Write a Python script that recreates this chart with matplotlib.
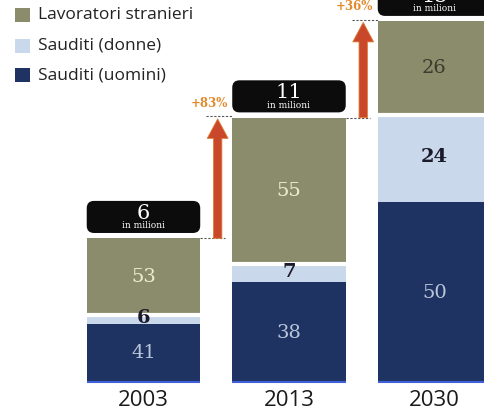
import matplotlib
matplotlib.use("Agg")
import matplotlib.pyplot as plt
from matplotlib.patches import FancyBboxPatch, Rectangle

# Data
years = ["2003", "2013", "2030"]
totals = [6, 11, 15]                      # workforce, millions
share_men = [41, 38, 50]                  # Sauditi (uomini), %
share_women = [6, 7, 24]                  # Sauditi (donne), %
share_foreign = [53, 55, 26]              # Lavoratori stranieri, %
growth_labels = ["+83%", "+36%"]
legend_labels = ["Lavoratori stranieri", "Sauditi (donne)", "Sauditi (uomini)"]

C_FOREIGN = "#8b8c6b"
C_WOMEN = "#c9d8ea"
C_MEN = "#1f3363"
C_ARROW = "#c9472b"
C_GROWTH = "#e3892a"

fig = plt.figure(figsize=(4.85, 4.13), dpi=100)
ax = fig.add_axes([0, 0, 1, 1])
ax.set_xlim(-0.986, 2.347)
ax.set_ylim(-1.244, 15.88)
ax.axis("off")

x = list(range(len(years)))
width = 0.78
serif = "DejaVu Serif"

for i, tot in enumerate(totals):
    men = tot * share_men[i] / 100
    women = tot * share_women[i] / 100
    foreign = tot * share_foreign[i] / 100
    ax.bar(x[i], men, width, bottom=0, color=C_MEN, linewidth=0)
    ax.bar(x[i], women, width, bottom=men, color=C_WOMEN, linewidth=0)
    ax.bar(x[i], foreign, width, bottom=men + women, color=C_FOREIGN, linewidth=0)
    # white gap between foreign and Saudi segments
    ax.hlines(men + women, x[i] - width / 2, x[i] + width / 2, color="white", lw=3)
    # bright base line
    ax.hlines(0.03, x[i] - width / 2, x[i] + width / 2, color="#3f60d8", lw=1.5)

    # segment labels
    ax.text(x[i], men / 2, str(share_men[i]), ha="center", va="center",
            family=serif, fontsize=14, color="#b9c6da")
    ax.text(x[i], men + women / 2 + 0.05, str(share_women[i]), ha="center", va="center",
            family=serif, fontsize=14, fontweight="bold", color="#1a1a2a")
    fcol = "#f0ecd0" if i < 2 else "#3b3b2e"
    ax.text(x[i], men + women + foreign / 2, str(share_foreign[i]), ha="center", va="center",
            family=serif, fontsize=14, color=fcol)

    # black total box
    b0 = tot + 0.22
    bh = 1.33
    box = FancyBboxPatch((x[i] - width / 2, b0), width, bh,
                         boxstyle="round,pad=0,rounding_size=0.05",
                         mutation_aspect=6.03, fc="#0c0c0c", ec="none")
    ax.add_patch(box)
    ax.text(x[i], b0 + bh * 0.62, str(tot), ha="center", va="center",
            family=serif, fontsize=15, color="white")
    ax.text(x[i], b0 + bh * 0.22, "in milioni", ha="center", va="center",
            family=serif, fontsize=6.5, color="white")

    ax.text(x[i], -0.72, years[i], ha="center", va="center",
            family="Open Sans", fontsize=16, color="#1a1a1a")

# growth arrows between consecutive totals
for k in range(len(totals) - 1):
    xm = x[k] + 0.51
    lo, hi = totals[k], totals[k + 1]
    ax.hlines(lo, x[k] + width / 2, xm + 0.05, color="#555", lw=0.8, ls=(0, (2, 1.5)))
    ax.hlines(hi + 0.05, xm - 0.08, x[k + 1] - width / 2, color="#555", lw=0.8, ls=(0, (2, 1.5)))
    ax.annotate("", xy=(xm, hi - 0.05), xytext=(xm, lo),
                arrowprops=dict(arrowstyle="simple,head_width=1.5,head_length=1.4,tail_width=0.6",
                                mutation_scale=10, fc=C_ARROW, ec="#e07a30", lw=0.6,
                                shrinkA=0, shrinkB=0))
    ax.text(xm - 0.06, hi + 0.6, growth_labels[k], ha="center", va="center",
            family=serif, fontsize=8.5, fontweight="bold", color=C_GROWTH)

# legend
leg_cols = [C_FOREIGN, C_WOMEN, C_MEN]
leg_y = [15, 46, 75]
H = 413
for lab, col, yp in zip(legend_labels, leg_cols, leg_y):
    fig.patches.append(Rectangle((15 / 485, 1 - (yp + 7) / H), 15 / 485, 14 / H,
                                 transform=fig.transFigure, fc=col, ec="none"))
    fig.text(38 / 485, 1 - yp / H, lab, ha="left", va="center",
             family="Open Sans", fontsize=12.5, color="#222222")

fig.savefig("out.png", dpi=100)
